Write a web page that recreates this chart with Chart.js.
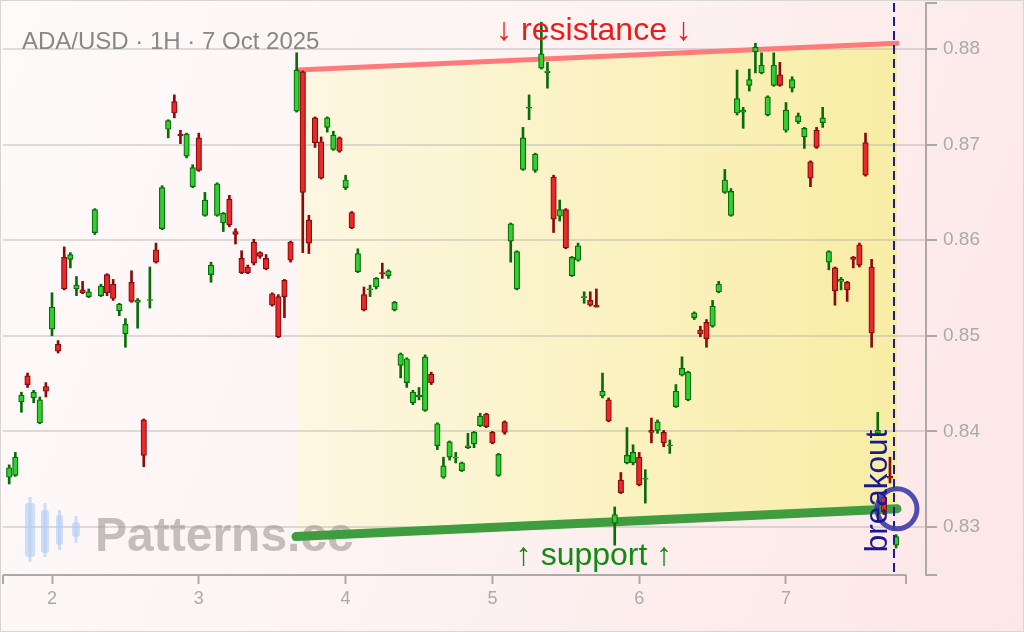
<!DOCTYPE html>
<html>
<head>
<meta charset="utf-8">
<script src="https://cdn.jsdelivr.net/npm/chart.js@4.4.0/dist/chart.umd.min.js"></script>
<style>
  html, body { margin: 0; padding: 0; background: #fdf3f3; }
  canvas { display: block; background: linear-gradient(110deg, #fefafa 0%, #fdf3f3 45%, #fde6e6 100%); }
</style>
</head>
<body>
<canvas id="c" width="1024" height="632"></canvas>
<script>
// ---- data (ADA/USD, 1H candles, Oct 1 17:00 -> Oct 7 18:00) ----
const times = [
 '1 17:00','1 18:00','1 19:00','1 20:00','1 21:00','1 22:00','1 23:00',
 '2 00:00','2 01:00','2 02:00','2 03:00','2 04:00','2 05:00','2 06:00','2 07:00','2 08:00','2 09:00','2 10:00','2 11:00',
 '2 12:00','2 13:00','2 14:00','2 15:00','2 16:00','2 17:00','2 18:00','2 19:00','2 20:00','2 21:00','2 22:00','2 23:00',
 '3 00:00','3 01:00','3 02:00','3 03:00','3 04:00','3 05:00','3 06:00','3 07:00','3 08:00','3 09:00','3 10:00','3 11:00',
 '3 12:00','3 13:00','3 14:00','3 15:00','3 16:00','3 17:00','3 18:00','3 19:00','3 20:00','3 21:00','3 22:00','3 23:00',
 '4 00:00','4 01:00','4 02:00','4 03:00','4 04:00','4 05:00','4 06:00','4 07:00','4 08:00','4 09:00','4 10:00','4 11:00',
 '4 12:00','4 13:00','4 14:00','4 15:00','4 16:00','4 17:00','4 18:00','4 19:00','4 20:00','4 21:00','4 22:00','4 23:00',
 '5 00:00','5 01:00','5 02:00','5 03:00','5 04:00','5 05:00','5 06:00','5 07:00','5 08:00','5 09:00','5 10:00','5 11:00',
 '5 12:00','5 13:00','5 14:00','5 15:00','5 16:00','5 17:00','5 18:00','5 19:00','5 20:00','5 21:00','5 22:00','5 23:00',
 '6 00:00','6 01:00','6 02:00','6 03:00','6 04:00','6 05:00','6 06:00','6 07:00','6 08:00','6 09:00','6 10:00','6 11:00',
 '6 12:00','6 13:00','6 14:00','6 15:00','6 16:00','6 17:00','6 18:00','6 19:00','6 20:00','6 21:00','6 22:00','6 23:00',
 '7 00:00','7 01:00','7 02:00','7 03:00','7 04:00','7 05:00','7 06:00','7 07:00','7 08:00','7 09:00','7 10:00','7 11:00',
 '7 12:00','7 13:00','7 14:00','7 15:00','7 16:00','7 17:00','7 18:00'
];
const opens = [
 .8352,.8354,.8431,.8458,.8435,.8409,.8447,.8507,.8491,.8582,
 .8580,.8549,.8548,.8541,.8608,.8542,.8564,.8554,.8526,.8502,
 .8556,.8535,.8412,.8537,.8590,.8612,.8716,.8745,.8711,.8688,
 .8656,.8707,.8626,.8564,.8626,.8618,.8643,.8609,.8581,.8572,
 .8598,.8587,.8581,.8544,.8541,.8558,.8598,.8735,.8776,.8621,
 .8728,.8703,.8718,.8695,.8707,.8655,.8629,.8567,.8543,.8548,
 .8551,.8566,.8563,.8527,.8469,.8451,.8430,.8436,.8422,.8460,
 .8385,.8352,.8373,.8372,.8359,.8383,.8387,.8406,.8418,.8399,
 .8354,.8410,.8599,.8549,.8674,.8738,.8673,.8780,.8775,.8666,
 .8625,.8632,.8563,.8579,.8540,.8537,.8532,.8437,.8433,.8304,
 .8349,.8367,.8367,.8373,.8350,.8401,.8401,.8399,.8385,.8426,
 .8459,.8433,.8519,.8506,.8514,.8510,.8546,.8650,.8626,.8733,
 .8734,.8762,.8797,.8775,.8731,.8762,.8773,.8715,.8759,.8724,
 .8708,.8682,.8715,.8723,.8577,.8571,.8557,.8556,.8582,.8595,
 .8702,.8572,.8398,.8331,.8353,.8281
];
const highs = [
 .8365,.8378,.8441,.8461,.8443,.8436,.8451,.8545,.8495,.8593,
 .8587,.8562,.8557,.8549,.8633,.8554,.8565,.8559,.8534,.8518,
 .8568,.8539,.8413,.8572,.8597,.8657,.8726,.8752,.8715,.8712,
 .8679,.8712,.8650,.8577,.8660,.8629,.8647,.8612,.8589,.8574,
 .8601,.8588,.8585,.8545,.8543,.8559,.8599,.8796,.8777,.8626,
 .8729,.8708,.8729,.8714,.8708,.8668,.8630,.8591,.8551,.8553,
 .8561,.8576,.8569,.8536,.8482,.8477,.8443,.8446,.8480,.8462,
 .8409,.8373,.8390,.8378,.8368,.8398,.8400,.8419,.8419,.8400,
 .8377,.8411,.8618,.8589,.8718,.8752,.8691,.8828,.8786,.8668,
 .8642,.8633,.8583,.8597,.8546,.8546,.8549,.8461,.8435,.8321,
 .8357,.8404,.8386,.8378,.8360,.8414,.8412,.8401,.8391,.8449,
 .8478,.8463,.8525,.8510,.8517,.8537,.8557,.8674,.8654,.8778,
 .8739,.8779,.8806,.8796,.8751,.8796,.8786,.8744,.8771,.8733,
 .8718,.8683,.8718,.8739,.8589,.8572,.8561,.8557,.8583,.8597,
 .8712,.8580,.8420,.8334,.8373,.8292
];
const lows = [
 .8345,.8353,.8420,.8446,.8430,.8408,.8436,.8500,.8482,.8548,
 .8571,.8542,.8544,.8540,.8606,.8541,.8542,.8537,.8521,.8488,
 .8535,.8508,.8363,.8529,.8576,.8611,.8707,.8728,.8701,.8686,
 .8655,.8672,.8625,.8556,.8625,.8609,.8614,.8596,.8565,.8565,
 .8574,.8581,.8569,.8531,.8498,.8519,.8577,.8734,.8587,.8586,
 .8697,.8664,.8713,.8694,.8692,.8653,.8612,.8566,.8526,.8541,
 .8549,.8560,.8560,.8526,.8456,.8446,.8428,.8433,.8421,.8449,
 .8381,.8351,.8370,.8367,.8358,.8382,.8383,.8405,.8404,.8387,
 .8353,.8397,.8577,.8548,.8673,.8726,.8671,.8779,.8759,.8608,
 .8620,.8591,.8562,.8578,.8534,.8531,.8530,.8435,.8410,.8281,
 .8335,.8366,.8365,.8343,.8325,.8388,.8398,.8384,.8377,.8425,
 .8458,.8432,.8517,.8499,.8488,.8509,.8545,.8649,.8625,.8731,
 .8717,.8756,.8775,.8774,.8730,.8761,.8761,.8713,.8755,.8722,
 .8696,.8656,.8696,.8718,.8569,.8532,.8548,.8536,.8571,.8572,
 .8667,.8488,.8397,.8313,.8346,.8278
];
const closes = [
 .8362,.8373,.8438,.8449,.8441,.8433,.8442,.8530,.8484,.8549,
 .8585,.8553,.8545,.8546,.8632,.8552,.8545,.8539,.8533,.8512,
 .8536,.8537,.8375,.8538,.8577,.8655,.8725,.8733,.8709,.8711,
 .8676,.8673,.8642,.8574,.8659,.8628,.8616,.8606,.8566,.8566,
 .8576,.8583,.8570,.8532,.8499,.8541,.8579,.8778,.8650,.8597,
 .8702,.8665,.8728,.8710,.8693,.8663,.8613,.8586,.8527,.8549,
 .8560,.8565,.8568,.8535,.8481,.8476,.8441,.8438,.8478,.8451,
 .8408,.8364,.8389,.8373,.8367,.8385,.8399,.8416,.8405,.8388,
 .8376,.8399,.8617,.8588,.8707,.8739,.8690,.8795,.8777,.8622,
 .8632,.8592,.8582,.8594,.8541,.8532,.8530,.8442,.8411,.8313,
 .8336,.8375,.8378,.8344,.8351,.8399,.8410,.8388,.8386,.8442,
 .8466,.8462,.8524,.8502,.8497,.8531,.8554,.8663,.8651,.8748,
 .8736,.8768,.8802,.8783,.8750,.8783,.8762,.8736,.8768,.8730,
 .8717,.8665,.8697,.8728,.8588,.8547,.8559,.8548,.8580,.8574,
 .8668,.8503,.8401,.8316,.8351,.8290
];
const xTicks = [2, 3, 4, 5, 6, 7];
const yTicks = [0.83, 0.84, 0.85, 0.86, 0.87, 0.88];
const resistanceX = [3.6757, 7.7561];
const resistanceY = [0.8778, 0.8806];
const supportX = [3.6621, 7.7561];
const supportY = [0.8290, 0.8319];
const breakoutX = 7.7357;
const breakoutPoint = [7.7561, 0.8319];
const xRange = [1.6662, 7.9537];
const yRange = [0.82498, 0.88481];
const xAxisEnd = 7.8174;

// ---- styling ----
const FONT = '"Liberation Sans", Arial, Helvetica, sans-serif';
const GF = '#30d030', GL = '#0b6b0b', RF = '#e82a2a', RL = '#8a0b0b';

const xs = times.map(s => { const p = s.split(' '); return Number(p[0]) + parseInt(p[1], 10) / 24; });
const up = opens.map((o, i) => closes[i] >= o);
const wickData = xs.map((x, i) => ({ x: x, y: [lows[i], highs[i]] }));
const bodyData = xs.map((x, i) => ({ x: x, y: [opens[i], closes[i]] }));
const onTick = v => yTicks.some(t => Math.abs(t - v) < 1e-6);
const noPad = s => { s.paddingLeft = 0; s.paddingRight = 0; s.paddingTop = 0; s.paddingBottom = 0; };

const yellow = (c) => {
  const chart = c.chart;
  if (!chart.chartArea || !chart.scales.x) return '#fbf3c8';
  const x0 = chart.scales.x.getPixelForValue(supportX[0]);
  const x1 = chart.scales.x.getPixelForValue(supportX[1]);
  const g = chart.ctx.createLinearGradient(x0, 0, x1, 0);
  g.addColorStop(0, '#fdf7e3');
  g.addColorStop(1, '#f8eda4');
  return g;
};

const decor = {
  id: 'decor',
  beforeDatasetsDraw(chart) {
    const ctx = chart.ctx;
    ctx.save();
    // watermark icon
    ctx.fillStyle = 'rgba(175,205,245,0.6)';
    const icon = [[30, 497, 562, 503, 557, 10], [45, 503, 557, 510, 553, 8], [59.5, 510, 550, 515, 545, 7], [76, 516, 543, 522, 537, 8]];
    icon.forEach(([cx, w0, w1, b0, b1, w]) => {
      ctx.fillRect(cx - 1.5, w0, 3, w1 - w0);
      ctx.beginPath();
      if (ctx.roundRect) ctx.roundRect(cx - w / 2, b0, w, b1 - b0, 3); else ctx.rect(cx - w / 2, b0, w, b1 - b0);
      ctx.fill();
    });
    ctx.font = 'bold 48px ' + FONT;
    ctx.fillStyle = 'rgba(160,150,150,0.6)';
    ctx.textBaseline = 'alphabetic';
    ctx.textAlign = 'left';
    ctx.fillText('Patterns.cc', 95, 551);
    ctx.restore();
  },
  afterDraw(chart) {
    const ctx = chart.ctx, a = chart.chartArea, sx = chart.scales.x;
    ctx.save();
    // x axis line with end caps
    ctx.strokeStyle = '#aaaaaa';
    ctx.lineWidth = 2;
    const xr = sx.getPixelForValue(xAxisEnd);
    ctx.beginPath();
    ctx.moveTo(a.left, a.bottom); ctx.lineTo(xr, a.bottom);
    ctx.moveTo(a.left, a.bottom); ctx.lineTo(a.left, a.bottom + 9);
    ctx.moveTo(xr, a.bottom); ctx.lineTo(xr, a.bottom + 9);
    ctx.stroke();
    // frame
    ctx.strokeStyle = '#d6d6d6';
    ctx.lineWidth = 1;
    ctx.strokeRect(0.5, 0.5, chart.width - 1, chart.height - 1);
    // title
    ctx.font = '24px ' + FONT;
    ctx.fillStyle = '#888888';
    ctx.textAlign = 'left';
    ctx.textBaseline = 'alphabetic';
    ctx.fillText('ADA/USD \u00b7 1H \u00b7 7 Oct 2025', 22, 49);
    // labels
    ctx.font = '32px ' + FONT;
    ctx.textAlign = 'center';
    ctx.fillStyle = '#ee1a1a';
    ctx.fillText('\u2193 resistance \u2193', 594, 40);
    ctx.fillStyle = '#138a13';
    ctx.fillText('\u2191 support \u2191', 594, 565);
    // breakout
    ctx.translate(887, 491);
    ctx.rotate(-Math.PI / 2);
    ctx.font = '31.5px ' + FONT;
    ctx.fillStyle = '#1a1a8e';
    ctx.fillText('breakout', 0, 0);
    ctx.restore();
  }
};

new Chart(document.getElementById('c'), {
  type: 'bar',
  data: {
    datasets: [
      { type: 'line', label: 'resistance', data: resistanceX.map((x, i) => ({ x: x, y: resistanceY[i] })),
        borderColor: '#ff7a7a', borderWidth: 5, borderCapStyle: 'round', pointRadius: 0,
        fill: '+1', backgroundColor: yellow, order: 10 },
      { type: 'line', label: 'support', data: supportX.map((x, i) => ({ x: x, y: supportY[i] })),
        borderColor: '#3f9c3f', borderWidth: 9, borderCapStyle: 'round', pointRadius: 0, fill: false, order: 9 },
      { type: 'bar', label: 'wicks', data: wickData, backgroundColor: up.map(u => u ? GL : RL),
        borderWidth: 0, barThickness: 2, grouped: false, order: 5 },
      { type: 'bar', label: 'bodies', data: bodyData, backgroundColor: up.map(u => u ? GF : RF),
        borderColor: up.map(u => u ? GL : RL), borderWidth: 1.2, borderSkipped: false,
        barThickness: 5.5, grouped: false, order: 4 },
      { type: 'line', label: 'breakout', data: [{ x: breakoutX, y: yRange[1] }, { x: breakoutX, y: yRange[0] }],
        borderColor: '#1c1c9a', borderWidth: 2, borderDash: [9, 5], pointRadius: 0, fill: false, order: 2 },
      { type: 'scatter', label: 'breakout point', data: [{ x: breakoutPoint[0], y: breakoutPoint[1] }],
        pointRadius: 20, pointBorderWidth: 5, pointBorderColor: 'rgba(60,60,170,0.9)',
        pointBackgroundColor: 'rgba(0,0,0,0)', order: 1 }
    ]
  },
  options: {
    responsive: false,
    animation: false,
    devicePixelRatio: 1,
    layout: { autoPadding: false, padding: { left: 3, top: 3, right: 0, bottom: 0 } },
    plugins: { legend: { display: false }, tooltip: { enabled: false }, filler: { drawTime: 'beforeDraw' } },
    scales: {
      x: {
        type: 'linear', min: xRange[0], max: xRange[1], offset: false,
        border: { display: false },
        grid: { display: true, drawOnChartArea: false, drawTicks: true, tickLength: 9, tickColor: '#aaaaaa', tickWidth: 2, offset: false },
        ticks: { stepSize: 1, includeBounds: false, autoSkip: false, maxRotation: 0, color: '#aaaaaa',
                 font: { size: 18, family: FONT }, padding: 4,
                 callback: v => xTicks.includes(v) ? String(v) : null },
        afterFit: s => { s.height = 57; noPad(s); }
      },
      y: {
        type: 'linear', position: 'right', min: yRange[0], max: yRange[1],
        border: { display: true, color: '#aaaaaa', width: 2 },
        grid: { color: c => onTick(c.tick.value) ? 'rgba(180,180,180,0.45)' : 'rgba(0,0,0,0)', lineWidth: 2,
                tickColor: '#aaaaaa', tickLength: 11, tickWidth: 2, drawTicks: true },
        ticks: { stepSize: 0.01, includeBounds: true, color: '#aaaaaa', font: { size: 19, family: FONT }, padding: 6,
                 callback: v => onTick(v) ? v.toFixed(2) : '' },
        afterFit: s => { s.width = 98; noPad(s); }
      }
    }
  },
  plugins: [decor]
});
</script>
</body>
</html>
